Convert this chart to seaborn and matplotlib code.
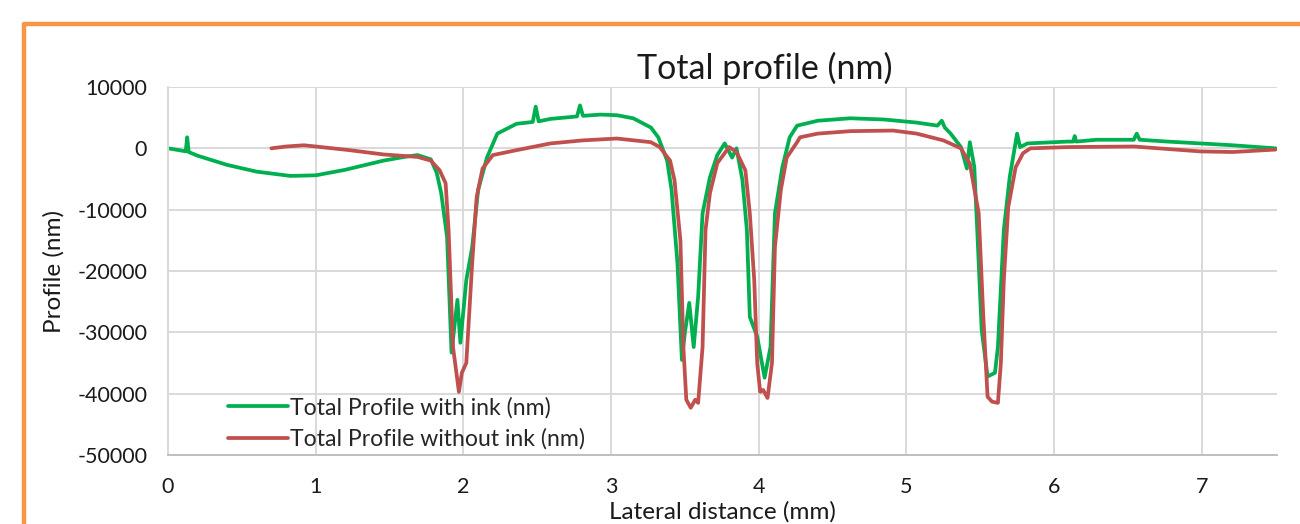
import matplotlib
matplotlib.use("Agg")
import matplotlib.pyplot as plt
from matplotlib.patches import Rectangle
import pandas as pd
import seaborn as sns

# profile with ink (green)
ink_x = [0.00, 0.10, 0.12, 0.13, 0.14, 0.20, 0.40, 0.60, 0.83, 1.00, 1.20, 1.46, 1.60, 1.69, 1.78,
         1.82, 1.85, 1.89, 1.92, 1.96, 1.98, 2.02, 2.06, 2.10, 2.16, 2.23, 2.36, 2.47, 2.49, 2.51,
         2.59, 2.77, 2.79, 2.81, 2.93, 3.04, 3.15, 3.27, 3.32, 3.38, 3.41, 3.45, 3.48, 3.50, 3.53,
         3.56, 3.59, 3.62, 3.67, 3.72, 3.77, 3.82, 3.85, 3.89, 3.92, 3.94, 3.99, 4.04, 4.08, 4.11,
         4.16, 4.21, 4.26, 4.40, 4.62, 4.85, 5.07, 5.21, 5.24, 5.26, 5.30, 5.37, 5.41, 5.43, 5.46,
         5.48, 5.51, 5.55, 5.60, 5.62, 5.66, 5.70, 5.75, 5.77, 5.82, 6.09, 6.13, 6.14, 6.15, 6.29,
         6.54, 6.56, 6.58, 6.77, 6.99, 7.21, 7.50]
ink_y = [0, -400, -500, 1800, -600, -1200, -2700, -3800, -4500, -4400, -3500, -2000, -1400, -1100, -1800,
         -4000, -7300, -14500, -33300, -24700, -31700, -21500, -16100, -6800, -1500, 2400, 4000, 4300, 6800, 4400,
         4800, 5200, 7000, 5300, 5500, 5400, 4900, 3400, 1800, -2000, -6800, -18700, -34500, -30100, -25200,
         -32400, -24200, -10600, -4700, -1100, 800, -1500, 0, -5200, -13300, -27500, -30700, -37400, -32400, -10600,
         -3100, 1800, 3700, 4500, 4900, 4700, 4200, 3700, 4500, 3400, 2400, 200, -3300, 1000, -3000,
         -13300, -29600, -37200, -36600, -32400, -13300, -4700, 2400, 200, 800, 1100, 1100, 2000, 1100, 1400,
         1400, 2400, 1400, 1100, 800, 500, 0]

# profile without ink (red)
bare_x = [0.70, 0.80, 0.92, 1.00, 1.23, 1.46, 1.69, 1.78, 1.84, 1.88, 1.90, 1.93, 1.97, 1.99, 2.02,
          2.06, 2.09, 2.13, 2.20, 2.36, 2.59, 2.81, 3.04, 3.27, 3.33, 3.40, 3.43, 3.47, 3.49, 3.51,
          3.54, 3.57, 3.59, 3.62, 3.64, 3.67, 3.72, 3.80, 3.85, 3.91, 3.94, 3.97, 3.99, 4.01, 4.03,
          4.06, 4.09, 4.11, 4.15, 4.19, 4.26, 4.28, 4.40, 4.62, 4.91, 5.07, 5.25, 5.37, 5.43, 5.49,
          5.52, 5.55, 5.58, 5.62, 5.64, 5.66, 5.69, 5.74, 5.79, 5.84, 6.09, 6.54, 6.99, 7.21, 7.50]
bare_y = [0, 300, 500, 300, -300, -1000, -1400, -2000, -3600, -5700, -13300, -32400, -39700, -36600, -35000,
          -18700, -8000, -3300, -1100, -300, 800, 1300, 1600, 1000, 200, -2000, -5200, -15000, -32400, -41000,
          -42300, -41000, -41500, -32400, -13300, -7300, -2400, 200, -600, -3600, -10600, -21500, -35000, -39700, -39400,
          -40700, -35000, -16100, -6800, -1500, 1000, 1800, 2400, 2800, 2900, 2400, 1300, 0, -2500, -10600,
          -26800, -40500, -41300, -41500, -35000, -21500, -9600, -3100, -800, 0, 200, 300, -500, -600, -200]

labels = ["Total Profile with ink (nm)", "Total Profile without ink (nm)"]
x_ticks = [0, 1, 2, 3, 4, 5, 6, 7]
y_ticks = [-50000, -40000, -30000, -20000, -10000, 0, 10000]

df = pd.concat([
    pd.DataFrame({"x": ink_x, "y": ink_y, "series": labels[0]}),
    pd.DataFrame({"x": bare_x, "y": bare_y, "series": labels[1]}),
])

sns.set_style("white")
plt.rcParams["font.family"] = ["Lato", "DejaVu Sans"]
plt.rcParams["axes.unicode_minus"] = False

fig = plt.figure(figsize=(13, 5.24), dpi=100)
ax = fig.add_axes([168/1300, 1 - 455/524, (1277-168)/1300, (455-87)/524])

sns.lineplot(data=df, x="x", y="y", hue="series", palette=["#00B050", "#C0504D"],
             estimator=None, sort=False, linewidth=2.7, ax=ax)

ax.set_xlim(0, 7.51)
ax.set_ylim(-50000, 10000)
ax.set_xticks(x_ticks)
ax.set_yticks(y_ticks)
ax.grid(True, color="#d9d9d9", linewidth=1.4)
ax.set_axisbelow(True)
ax.tick_params(axis="both", length=0, labelsize=15.5, colors="#1a1a1a")
ax.tick_params(axis="x", pad=16)
ax.tick_params(axis="y", pad=15)
for side in ["top", "right"]:
    ax.spines[side].set_visible(False)
ax.spines["left"].set_color("#d9d9d9")
ax.spines["bottom"].set_color("#bfbfbf")
ax.spines["left"].set_linewidth(1.4)
ax.spines["bottom"].set_linewidth(1.4)

ax.set_xlabel("Lateral distance (mm)", fontsize=17.5, color="#1a1a1a", labelpad=3)
ax.set_ylabel("Profile (nm)", fontsize=17.5, color="#1a1a1a", labelpad=9)

fig.text(765/1300, 1 - 68/524, "Total profile (nm)", ha="center", va="center",
         fontsize=24.5, color="#1a1a1a")

ax.legend(loc="upper left", bbox_to_anchor=(228/1300, 1 - 397/524), bbox_transform=fig.transFigure,
          frameon=False, fontsize=16.6, handlelength=2.6, handletextpad=0.1, labelspacing=0.42,
          borderaxespad=0, borderpad=0)

# orange chart-area border (only top and left edge are inside the crop)
fig.patches.append(Rectangle((24/1300, -0.5), 2, 0.5 + (1 - 24/524), transform=fig.transFigure,
                             fill=False, edgecolor="#F79646", linewidth=3.2, joinstyle="round"))

fig.savefig("out.png", dpi=100, facecolor="white")
